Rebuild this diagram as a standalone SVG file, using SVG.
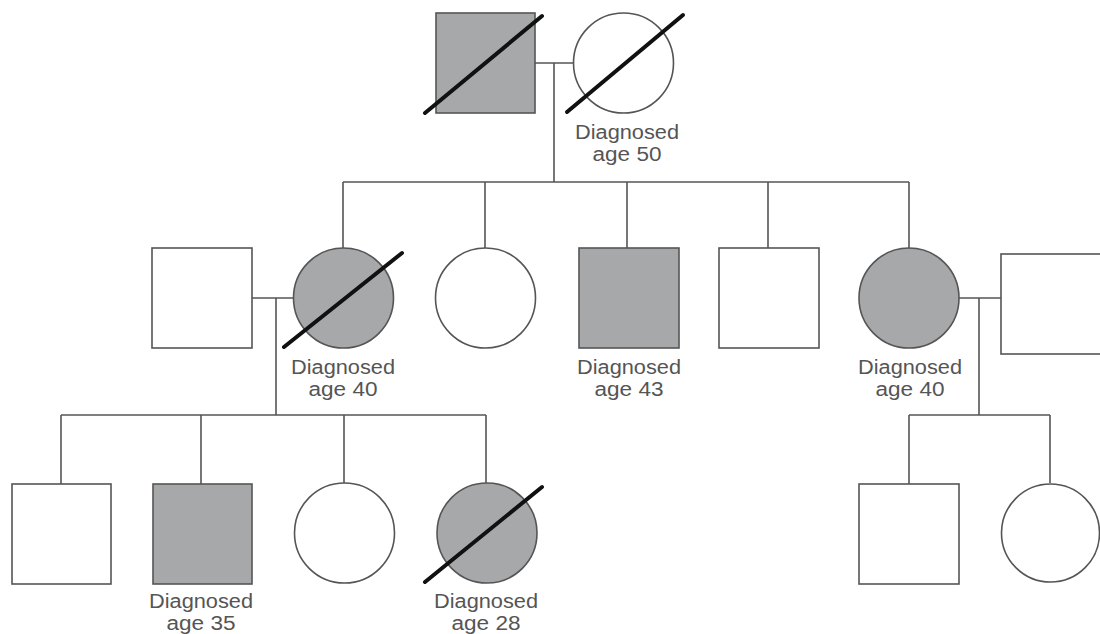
<svg xmlns="http://www.w3.org/2000/svg" width="1100" height="634" viewBox="0 0 1100 634">
<style>
.bg{fill:#ffffff}
.u{fill:#ffffff;stroke:#555;stroke-width:1.6}
.a{fill:#a7a8aa;stroke:#555;stroke-width:1.6}
.ln{fill:none;stroke:#555;stroke-width:1.6}
.d{stroke:#111;stroke-width:4;stroke-linecap:round}
.t{font-family:"Liberation Sans",Arial,Helvetica,sans-serif;font-size:20px;fill:#555;text-anchor:middle}
</style>
<rect class="bg" x="0" y="0" width="1100" height="634"/>
<g id="connectors">
<path class="ln" d="M535,63H573 M554,63V182 M343,182H909 M343,182V248 M485,182V248 M627,182V248 M768,182V248 M909,182V248"/>
<path class="ln" d="M252,298H293 M276,298V415 M61,415H486 M61,415V484 M201,415V484 M344,415V483 M486,415V483"/>
<path class="ln" d="M959,298H1001 M979,298V415 M909,415H1050 M909,415V484 M1050,415V483"/>
</g>
<g id="gp-father"><rect class="a" x="436" y="13" width="99" height="100"/><line class="d" x1="425" y1="113" x2="542" y2="16"/></g>
<g id="gp-mother"><circle class="u" cx="623.5" cy="63" r="50"/><line class="d" x1="567" y1="112" x2="683" y2="15"/>
<text class="t" x="627" y="139" textLength="104" lengthAdjust="spacingAndGlyphs">Diagnosed</text><text class="t" x="627" y="160.5" textLength="69" lengthAdjust="spacingAndGlyphs">age 50</text></g>
<g id="m1-husband"><rect class="u" x="152" y="248" width="100" height="100"/></g>
<g id="m1"><circle class="a" cx="343.5" cy="298" r="50"/><line class="d" x1="284" y1="347" x2="402" y2="253"/>
<text class="t" x="343" y="374" textLength="104" lengthAdjust="spacingAndGlyphs">Diagnosed</text><text class="t" x="343" y="395.5" textLength="69" lengthAdjust="spacingAndGlyphs">age 40</text></g>
<g id="m2"><circle class="u" cx="485.5" cy="298" r="50"/></g>
<g id="m3"><rect class="a" x="579" y="248" width="100" height="100"/>
<text class="t" x="629" y="374" textLength="104" lengthAdjust="spacingAndGlyphs">Diagnosed</text><text class="t" x="629" y="395.5" textLength="69" lengthAdjust="spacingAndGlyphs">age 43</text></g>
<g id="m4"><rect class="u" x="719" y="248" width="100" height="100"/></g>
<g id="m5"><circle class="a" cx="909" cy="298" r="50"/>
<text class="t" x="910" y="374" textLength="104" lengthAdjust="spacingAndGlyphs">Diagnosed</text><text class="t" x="910" y="395.5" textLength="69" lengthAdjust="spacingAndGlyphs">age 40</text></g>
<g id="m5-husband"><rect class="u" x="1001" y="254" width="102" height="100"/></g>
<g id="c1"><rect class="u" x="12" y="484" width="99" height="100"/></g>
<g id="c2"><rect class="a" x="153" y="484" width="99" height="100"/>
<text class="t" x="201" y="608" textLength="104" lengthAdjust="spacingAndGlyphs">Diagnosed</text><text class="t" x="201" y="629.5" textLength="69" lengthAdjust="spacingAndGlyphs">age 35</text></g>
<g id="c3"><circle class="u" cx="344.5" cy="533" r="50"/></g>
<g id="c4"><circle class="a" cx="487" cy="533" r="50"/><line class="d" x1="425" y1="582" x2="542" y2="487"/>
<text class="t" x="486" y="608" textLength="104" lengthAdjust="spacingAndGlyphs">Diagnosed</text><text class="t" x="486" y="629.5" textLength="69" lengthAdjust="spacingAndGlyphs">age 28</text></g>
<g id="c5"><rect class="u" x="859" y="484" width="100" height="100"/></g>
<g id="c6"><circle class="u" cx="1050.5" cy="533" r="49"/></g>
</svg>
